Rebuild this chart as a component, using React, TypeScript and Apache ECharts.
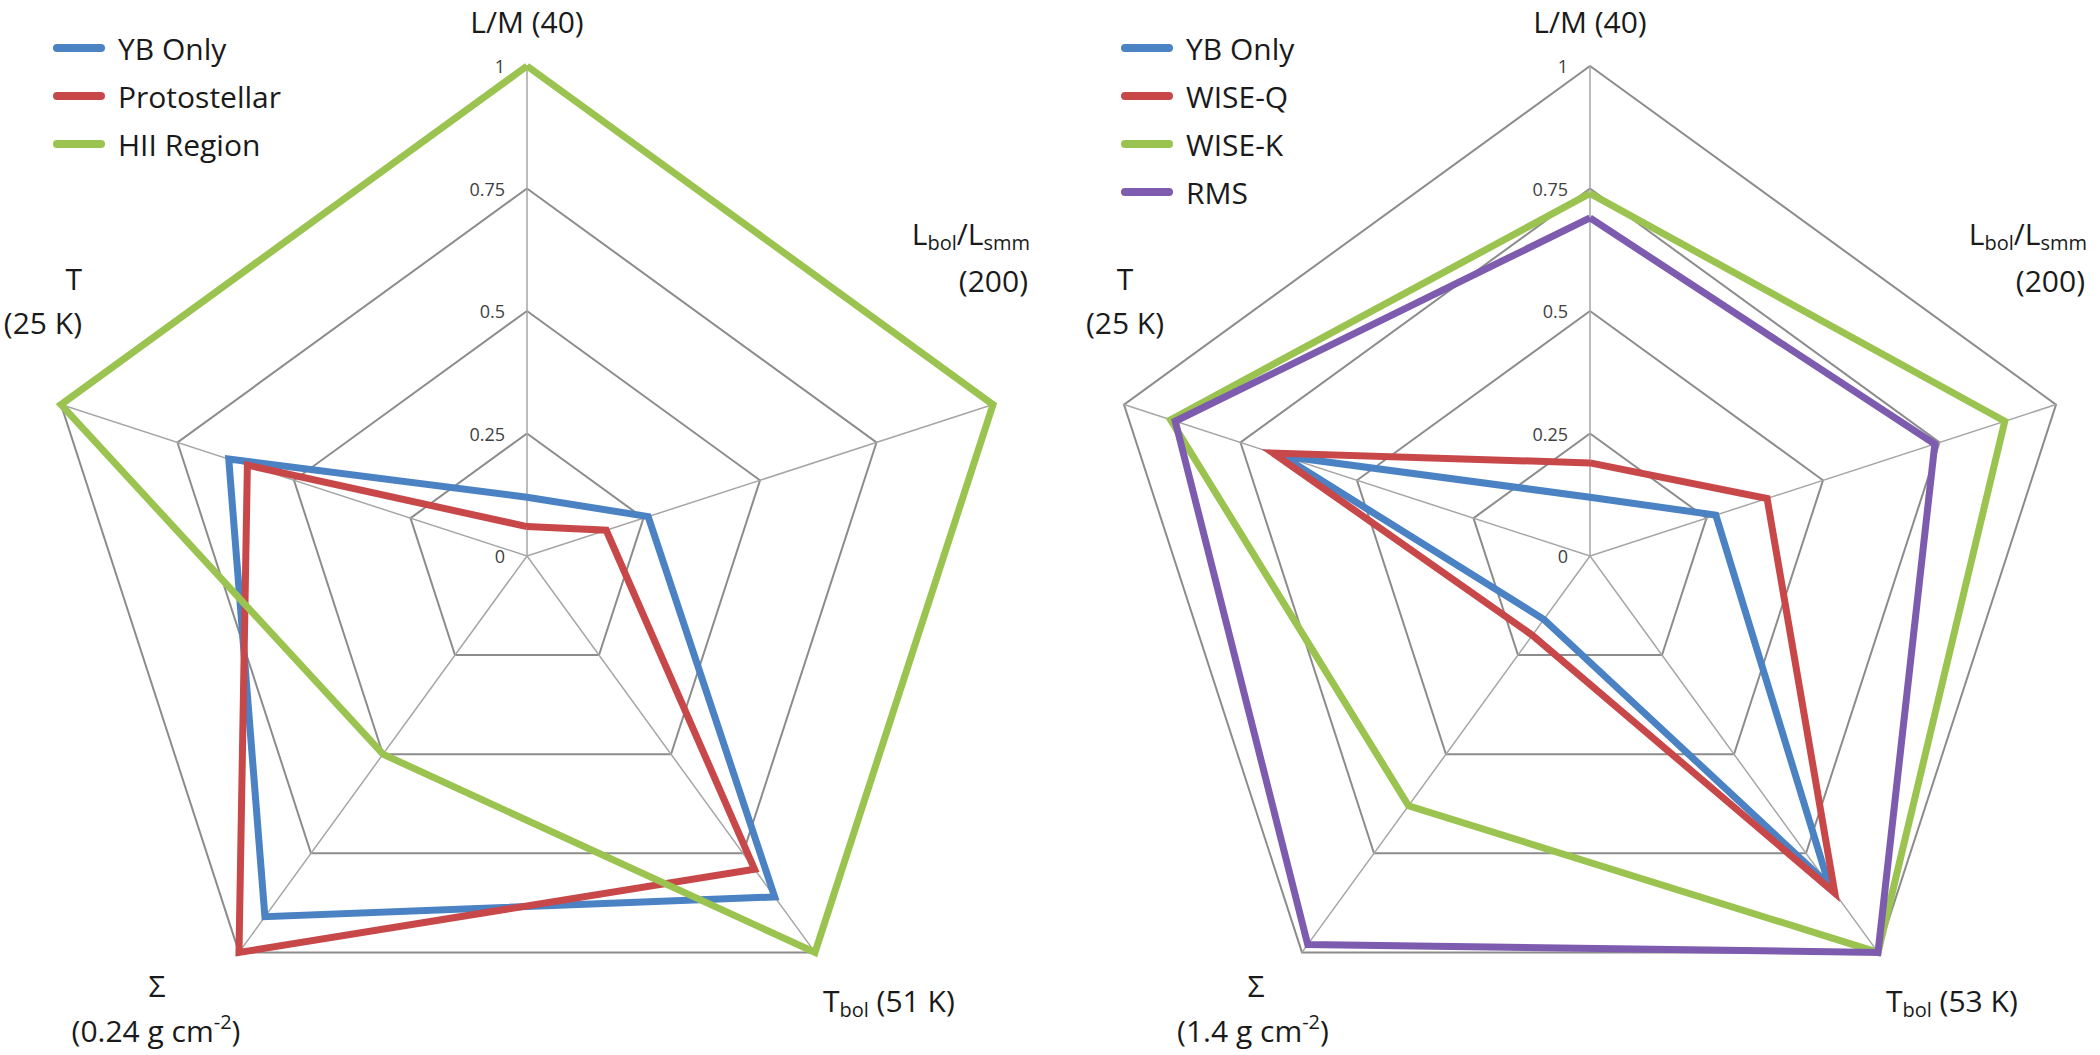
import React, { useEffect, useRef } from "react";
import * as echarts from "echarts";

// indicator order (counter-clockwise from top)
const categories = ["L/M", "T", "Σ", "Tbol", "Lbol/Lsmm"];

const leftNames = ["YB Only", "Protostellar", "HII Region"];
const leftYB = [0.12, 0.64, 0.91, 0.86, 0.26];
const leftProto = [0.06, 0.6, 1.0, 0.79, 0.17];
const leftHII = [1.0, 1.0, 0.5, 1.0, 1.0];

const rightNames = ["YB Only", "WISE-Q", "WISE-K", "RMS"];
const rightYB = [0.12, 0.66, 0.16, 0.83, 0.27];
const rightWQ = [0.19, 0.68, 0.2, 0.85, 0.38];
const rightWK = [0.74, 0.9, 0.63, 1.0, 0.89];
const rightRMS = [0.69, 0.89, 0.98, 1.0, 0.74];

const BLUE = "#4A82C4";
const RED = "#C8484A";
const GREEN = "#9BC34F";
const PURPLE = "#7D5BAE";

const FONT = "Open Sans";

function radarCfg(cx: number) {
  return {
    center: [cx, 556],
    radius: 490,
    startAngle: 90,
    splitNumber: 4,
    shape: "polygon",
    indicator: categories.map((n, i) => ({
      name: n,
      min: 0,
      max: 1,
      axisLabel:
        i === 0
          ? { show: true, fontSize: 18, color: "#404040", fontFamily: FONT, margin: 22 }
          : { show: false },
    })),
    axisName: { show: false },
    axisLabel: { show: false },
    axisTick: { show: false },
    splitArea: { show: false },
    splitLine: { lineStyle: { color: "#8c8c8c", width: 2 } },
    axisLine: { lineStyle: { color: "#a6a6a6", width: 1.5 } },
  };
}

function item(name: string, value: number[], color: string) {
  return {
    name,
    value,
    itemStyle: { color },
    lineStyle: { color, width: 7, join: "miter" },
    symbol: "none",
  };
}

const legendIcon = "path://M4,0L48,0A4,4,0,0,1,48,8L4,8A4,4,0,0,1,4,0Z";

function legendCfg(left: number, data: string[]) {
  return {
    orient: "vertical",
    left,
    top: 28,
    data,
    icon: legendIcon,
    itemWidth: 52,
    itemHeight: 8,
    itemGap: 18,
    selectedMode: false,
    textStyle: {
      fontSize: 30,
      lineHeight: 30,
      color: "#1a1a1a",
      fontFamily: FONT,
      padding: [0, 0, 0, 8],
    },
  };
}

const rich = {
  n: { fontSize: 30, lineHeight: 38, fontFamily: FONT, fill: "#1a1a1a" },
  sub: { fontSize: 20, lineHeight: 20, verticalAlign: "bottom", fontFamily: FONT, fill: "#1a1a1a" },
  sup: { fontSize: 20, lineHeight: 20, verticalAlign: "top", fontFamily: FONT, fill: "#1a1a1a" },
};

function label(text: string, x: number, y: number, align: string) {
  return {
    type: "text",
    x,
    y,
    silent: true,
    style: {
      text,
      fontFamily: FONT,
      fontSize: 30,
      fill: "#1a1a1a",
      align,
      verticalAlign: "middle",
      rich,
    },
  };
}

function plainLabel(text: string, x: number, y: number) {
  return {
    type: "text",
    x,
    y,
    silent: true,
    style: {
      text,
      fontFamily: FONT,
      fontSize: 30,
      fill: "#1a1a1a",
      align: "center",
      verticalAlign: "top",
    },
  };
}

function axisLabels(cx: number, tbol: string, sigma: string, right: boolean) {
  const dx = cx - 527;
  return [
    plainLabel("L/M (40)", cx, 6),
    label("{n|L}{sub|bol}{n|/L}{sub|smm}", 1030 + dx - (right ? 6 : 0), 233, "right"),
    label("{n|(200)}", 1028 + dx - (right ? 6 : 0), 280, "right"),
    label("{n|T}{sub|bol}{n| (" + tbol + ")}", 823 + dx, 1000, "left"),
    label("{n|Σ}", 157 + dx + (right ? 36 : 0), 985, "center"),
    label("{n|(" + sigma + " g cm}{sup|-2}{n|)}", 156 + dx + (right ? 34 : 0), 1030, "center"),
    right ? label("{n|T}", 1125, 278, "center") : label("{n|T}", 82, 278, "right"),
    right ? label("{n|(25 K)}", 1125, 322, "center") : label("{n|(25 K)}", 82, 322, "right"),
  ];
}

export default function App() {
  const ref = useRef<HTMLDivElement>(null);
  useEffect(() => {
    if (!ref.current) return;
    const chart = echarts.init(ref.current, undefined, { renderer: "svg" });
    chart.setOption({
      animation: false,
      backgroundColor: "#ffffff",
      textStyle: { fontFamily: FONT },
      legend: [legendCfg(48, leftNames), legendCfg(1116, rightNames)],
      radar: [radarCfg(527), radarCfg(1590)],
      series: [
        {
          type: "radar",
          radarIndex: 0,
          symbol: "none",
          emphasis: { disabled: true },
          data: [
            item(leftNames[0], leftYB, BLUE),
            item(leftNames[1], leftProto, RED),
            item(leftNames[2], leftHII, GREEN),
          ],
        },
        {
          type: "radar",
          radarIndex: 1,
          symbol: "none",
          emphasis: { disabled: true },
          data: [
            item(rightNames[0], rightYB, BLUE),
            item(rightNames[1], rightWQ, RED),
            item(rightNames[2], rightWK, GREEN),
            item(rightNames[3], rightRMS, PURPLE),
          ],
        },
      ],
      graphic: [
        ...axisLabels(527, "51 K", "0.24", false),
        ...axisLabels(1590, "53 K", "1.4", true),
      ],
    });
    return () => chart.dispose();
  }, []);
  return (
    <div
      ref={ref}
      style={{ position: "fixed", left: 0, top: 0, width: 2100, height: 1055, background: "#fff" }}
    />
  );
}
